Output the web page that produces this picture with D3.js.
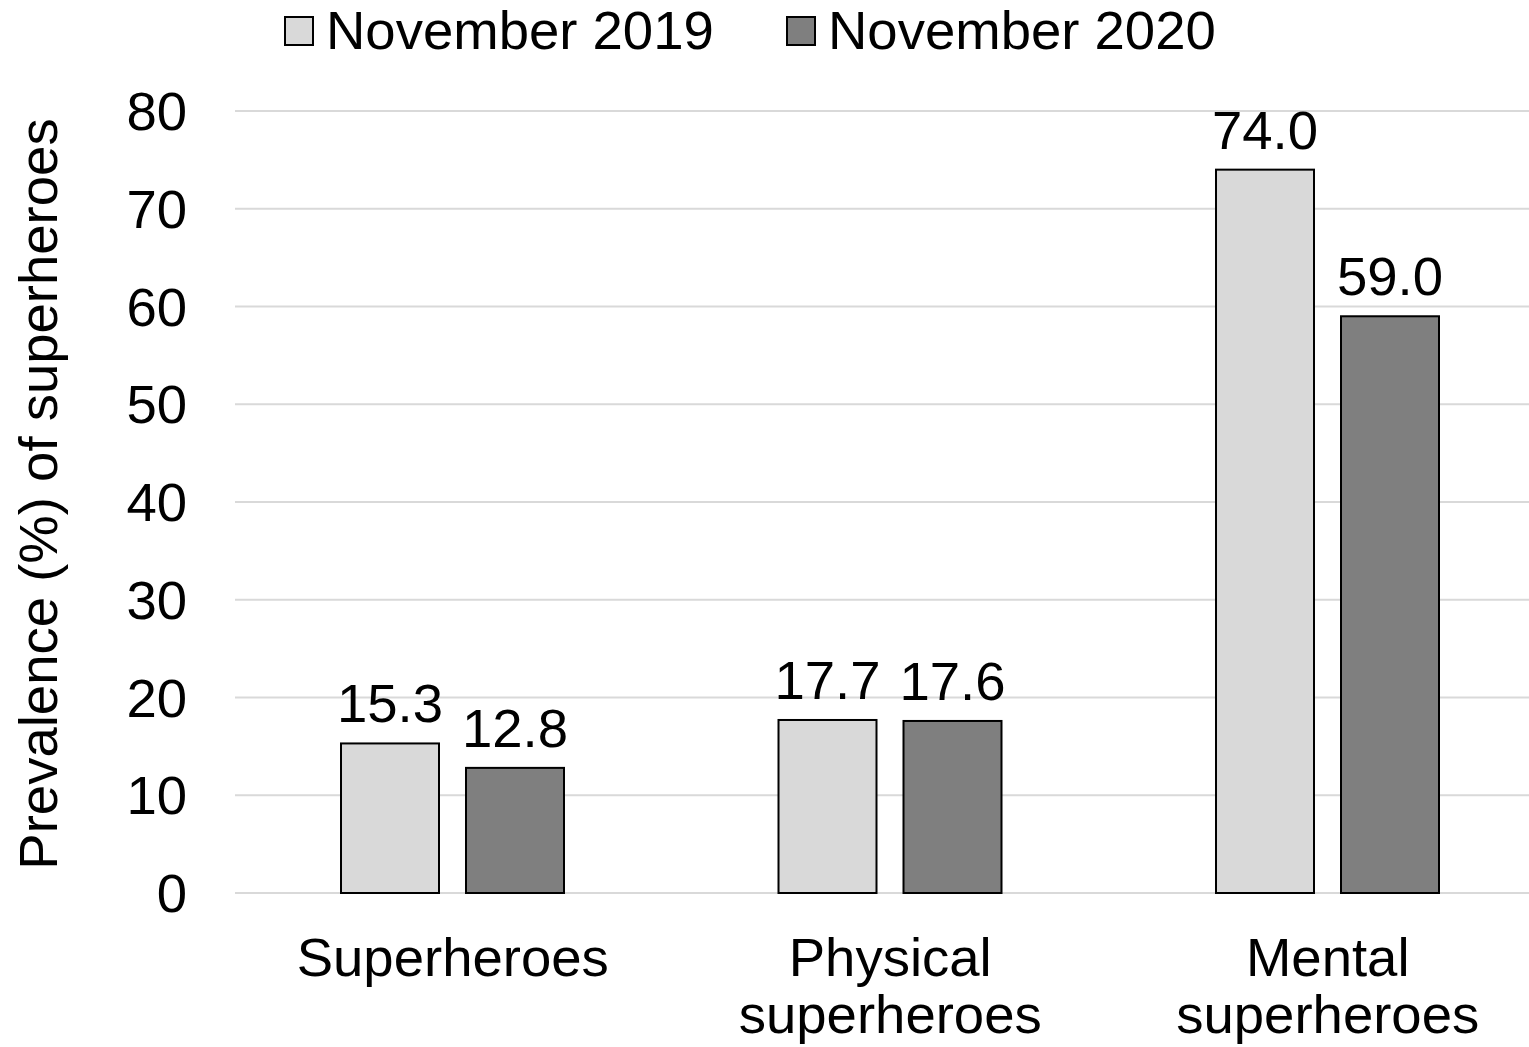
<!DOCTYPE html>
<html>
<head>
<meta charset="utf-8">
<script src="https://cdn.jsdelivr.net/npm/d3@7"></script>
<style>
  html, body { margin: 0; padding: 0; background: #fff; }
  svg { display: block; }
  text { font-family: "Liberation Sans", Arial, sans-serif; fill: #000; }
</style>
</head>
<body>
<svg id="chart" width="1529" height="1047"></svg>
<script>
const categories = [["Superheroes"], ["Physical", "superheroes"], ["Mental", "superheroes"]];
const categoryKeys = ["Superheroes", "Physical superheroes", "Mental superheroes"];
const seriesNames = ["November 2019", "November 2020"];
const values2019 = [15.3, 17.7, 74.0];
const values2020 = [12.8, 17.6, 59.0];
const yTicks = [0, 10, 20, 30, 40, 50, 60, 70, 80];
const yTitle = "Prevalence (%) of superheroes";
const colors = ["#d9d9d9", "#7f7f7f"];

const W = 1529, H = 1047;
const FS = 54.5;
const svg = d3.select("#chart");

const plotLeft = 235, plotRight = 1547.5, plotTop = 111, plotBottom = 893;

const x0 = d3.scaleBand().domain(categoryKeys).range([plotLeft, plotRight]).paddingInner(0).paddingOuter(0);
const bw = x0.bandwidth();
const x1 = d3.scaleBand().domain(seriesNames).range([bw * 0.2423, bw * 0.752]).paddingInner(0.216).paddingOuter(0);
const y = d3.scaleLinear().domain([0, 80]).range([plotBottom, plotTop]);

// gridlines
svg.append("g").selectAll("line").data(yTicks).join("line")
  .attr("x1", plotLeft).attr("x2", plotRight)
  .attr("y1", d => y(d)).attr("y2", d => y(d))
  .attr("stroke", "#d9d9d9").attr("stroke-width", 2);

// y axis tick labels
const yAxis = d3.axisLeft(y).tickValues(yTicks).tickSize(0).tickPadding(0).tickFormat(d3.format("d"));
const yg = svg.append("g").attr("transform", `translate(187,0)`).call(yAxis);
yg.select(".domain").remove();
yg.selectAll("text").attr("font-size", FS).attr("font-family", '"Liberation Sans", Arial, sans-serif')
  .attr("fill", "#000").attr("dy", "0.34em");

// bars
const data = categoryKeys.map((c, i) => ({ cat: c, vals: [
  { s: seriesNames[0], v: values2019[i], c: colors[0] },
  { s: seriesNames[1], v: values2020[i], c: colors[1] }
]}));

const groups = svg.append("g").selectAll("g").data(data).join("g")
  .attr("transform", d => `translate(${x0(d.cat)},0)`);

groups.selectAll("rect").data(d => d.vals).join("rect")
  .attr("x", d => x1(d.s))
  .attr("width", x1.bandwidth())
  .attr("y", d => y(d.v))
  .attr("height", d => y(0) - y(d.v))
  .attr("fill", d => d.c)
  .attr("stroke", "#000").attr("stroke-width", 2);

groups.selectAll("text.val").data(d => d.vals).join("text")
  .attr("class", "val")
  .attr("x", d => x1(d.s) + x1.bandwidth() / 2)
  .attr("y", d => y(d.v) - 21)
  .attr("text-anchor", "middle")
  .attr("font-size", FS)
  .text(d => d3.format(".1f")(d.v));

// category labels
const catG = svg.append("g");
categories.forEach((lines, i) => {
  const cx = x0(categoryKeys[i]) + bw / 2 - 1;
  const t = catG.append("text").attr("text-anchor", "middle").attr("font-size", FS);
  lines.forEach((ln, j) => {
    t.append("tspan").attr("x", cx).attr("y", 976 + j * 57).text(ln);
  });
});

// y title
svg.append("text")
  .attr("transform", `translate(57,494) rotate(-90)`)
  .attr("text-anchor", "middle")
  .attr("font-size", FS)
  .text(yTitle);

// legend
const legendX = [285, 787];
const leg = svg.append("g");
seriesNames.forEach((s, i) => {
  leg.append("rect").attr("x", legendX[i]).attr("y", 17).attr("width", 28).attr("height", 28)
    .attr("fill", colors[i]).attr("stroke", "#000").attr("stroke-width", 2);
  leg.append("text").attr("x", legendX[i] + 41).attr("y", 49).attr("font-size", FS).text(s);
});
</script>
</body>
</html>
